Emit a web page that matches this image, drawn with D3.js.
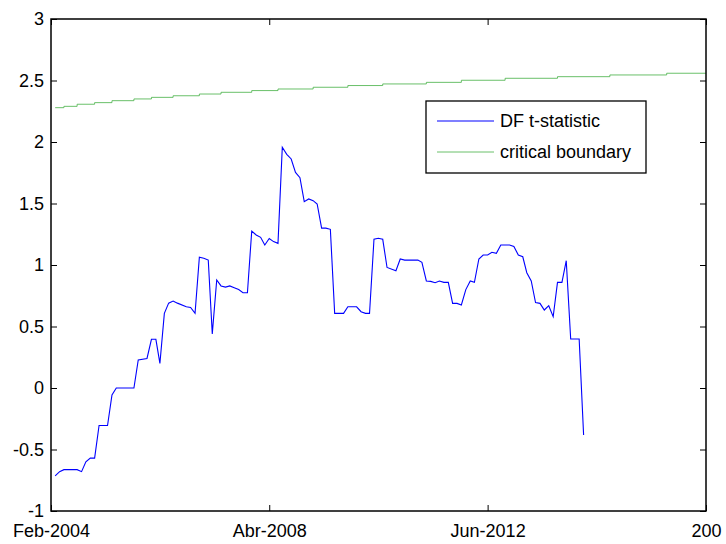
<!DOCTYPE html>
<html>
<head>
<meta charset="utf-8">
<script src="https://cdn.jsdelivr.net/npm/d3@7"></script>
<style>
  body { margin: 0; background: #fff; }
  svg { display: block; }
  text { font-family: "Liberation Sans", Arial, sans-serif; }
</style>
</head>
<body>
<div id="chart"></div>
<script>
// DF t-statistic (vertices of the line)
var dfDates = ["2004-03","2004-04","2004-05","2004-08","2004-09","2004-10","2004-11","2004-12",
  "2005-01","2005-03","2005-04","2005-05","2005-09","2005-10","2005-12","2006-01","2006-02",
  "2006-03","2006-04","2006-05","2006-06","2006-07","2006-09","2006-10","2006-11","2006-12",
  "2007-01","2007-02","2007-03","2007-04","2007-05","2007-06","2007-07","2007-08","2007-09",
  "2007-10","2007-11","2007-12","2008-01","2008-02","2008-03","2008-04","2008-05","2008-06",
  "2008-07","2008-08","2008-09","2008-10","2008-11","2008-12","2009-01","2009-02","2009-03",
  "2009-04","2009-05","2009-06","2009-07","2009-08","2009-09","2009-10","2009-12","2010-01",
  "2010-02","2010-03","2010-04","2010-05","2010-06","2010-07","2010-09","2010-10","2010-11",
  "2011-02","2011-03","2011-04","2011-05","2011-06","2011-07","2011-08","2011-09","2011-10",
  "2011-11","2011-12","2012-01","2012-02","2012-03","2012-04","2012-05","2012-06","2012-07",
  "2012-08","2012-09","2012-11","2012-12","2013-01","2013-02","2013-03","2013-04","2013-05",
  "2013-06","2013-07","2013-08","2013-09","2013-10","2013-11","2013-12","2014-01","2014-03",
  "2014-04"];
var dfValues = [-0.715,-0.68,-0.664,-0.664,-0.68,-0.60,-0.57,-0.57,
  -0.305,-0.305,-0.057,0.0,0.0,0.228,0.24,0.396,0.396,
  0.20,0.607,0.69,0.707,0.69,0.66,0.655,0.607,1.063,
  1.055,1.04,0.44,0.878,0.83,0.82,0.83,0.815,0.80,
  0.775,0.775,1.276,1.244,1.225,1.163,1.215,1.19,1.176,
  1.957,1.90,1.862,1.753,1.71,1.515,1.537,1.523,1.496,
  1.30,1.30,1.29,0.607,0.607,0.607,0.66,0.66,0.62,
  0.607,0.607,1.209,1.217,1.209,0.98,0.953,1.049,1.04,
  1.04,1.022,0.87,0.867,0.856,0.87,0.859,0.859,0.688,
  0.688,0.675,0.80,0.87,0.859,1.049,1.081,1.081,1.103,
  1.095,1.163,1.163,1.15,1.081,1.067,0.937,0.87,0.694,
  0.688,0.634,0.669,0.58,0.859,0.859,1.035,0.398,0.398,
  -0.382];

// critical boundary: step change dates and levels
var cvDates = ["2004-03","2004-05","2004-08","2004-12","2005-04","2005-09","2006-01","2006-06",
  "2006-12","2007-05","2007-12","2008-06","2009-02","2009-10","2010-06","2011-04","2011-12",
  "2012-10","2013-10","2014-10","2015-11","2016-08"];
var cvValues = [2.279,2.290,2.307,2.320,2.336,2.350,2.363,2.376,
  2.390,2.404,2.418,2.431,2.445,2.459,2.472,2.485,2.502,
  2.518,2.531,2.545,2.559,2.559];

var xTickDates = ["2004-02","2008-04","2012-06","2016-08"];
var xTickLabels = ["Feb-2004","Abr-2008","Jun-2012","200"];
var yTicks = [-1,-0.5,0,0.5,1,1.5,2,2.5,3];

var seriesNames = ["DF t-statistic","critical boundary"];
var seriesColors = ["#0000ff","#44b044"];

var W = 726, H = 544;
var margin = {top: 19, right: 20, bottom: 33, left: 51},
    width = W - margin.left - margin.right,
    height = H - margin.top - margin.bottom;

var parse = d3.timeParse("%Y-%m");

var svg = d3.select("#chart").append("svg")
    .attr("width", W)
    .attr("height", H);
var g = svg.append("g")
    .attr("transform", "translate(" + margin.left + "," + margin.top + ")");

var x = d3.scaleTime()
  .domain([parse(xTickDates[0]), parse(xTickDates[xTickDates.length - 1])])
  .range([0, width]);
var y = d3.scaleLinear()
  .domain([-1, 3])
  .range([height, 0]);

var tickVals = xTickDates.map(parse);

// bottom axis
g.append("g")
  .attr("transform", "translate(0," + height + ")")
  .call(d3.axisBottom(x).tickValues(tickVals)
    .tickFormat(function(d, i) { return xTickLabels[i]; })
    .tickSizeInner(-6).tickSizeOuter(0).tickPadding(13));
// top axis ticks
g.append("g")
  .call(d3.axisTop(x).tickValues(tickVals).tickFormat("")
    .tickSizeInner(-6).tickSizeOuter(0));
// left axis (plain hyphen for negatives, like the original)
g.append("g")
  .call(d3.axisLeft(y).tickValues(yTicks)
    .tickFormat(function(d) { return String(d); })
    .tickSizeInner(-6).tickSizeOuter(0).tickPadding(7));
// right axis ticks
g.append("g")
  .attr("transform", "translate(" + width + ",0)")
  .call(d3.axisRight(y).tickValues(yTicks).tickFormat("")
    .tickSizeInner(-6).tickSizeOuter(0));

g.selectAll(".domain").remove();
g.selectAll(".tick line").attr("stroke", "#000").attr("stroke-width", 1);
g.selectAll(".tick text")
  .attr("font-size", "18px")
  .attr("fill", "#000")
  .attr("font-family", "'Liberation Sans', Arial, sans-serif");

// lines
var dfData = dfDates.map(function(d, i) { return {date: parse(d), value: dfValues[i]}; });
var cvData = cvDates.map(function(d, i) { return {date: parse(d), value: cvValues[i]}; });

var line = d3.line()
  .x(function(d) { return x(d.date); })
  .y(function(d) { return y(d.value); });

g.append("path")
  .datum(cvData)
  .attr("fill", "none")
  .attr("stroke", seriesColors[1])
  .attr("stroke-width", 0.8)
  .attr("d", line.curve(d3.curveStepAfter));

g.append("path")
  .datum(dfData)
  .attr("fill", "none")
  .attr("stroke", seriesColors[0])
  .attr("stroke-width", 1.1)
  .attr("d", line.curve(d3.curveLinear));

// axes box
g.append("rect")
  .attr("x", 0).attr("y", 0)
  .attr("width", width).attr("height", height)
  .attr("fill", "none")
  .attr("stroke", "#000")
  .attr("stroke-width", 1.5);

// legend
var legend = svg.append("g").attr("transform", "translate(426,101)");
legend.append("rect")
  .attr("width", 220).attr("height", 72)
  .attr("fill", "#fff")
  .attr("stroke", "#000")
  .attr("stroke-width", 1.3);
seriesNames.forEach(function(name, i) {
  var ly = 20 + i * 31;
  legend.append("line")
    .attr("x1", 11).attr("x2", 68)
    .attr("y1", ly).attr("y2", ly)
    .attr("stroke", seriesColors[i])
    .attr("stroke-width", i == 0 ? 1.1 : 0.8);
  legend.append("text")
    .attr("x", 74)
    .attr("y", ly + 6)
    .text(name)
    .style("font-size", "18px");
});
</script>
</body>
</html>
